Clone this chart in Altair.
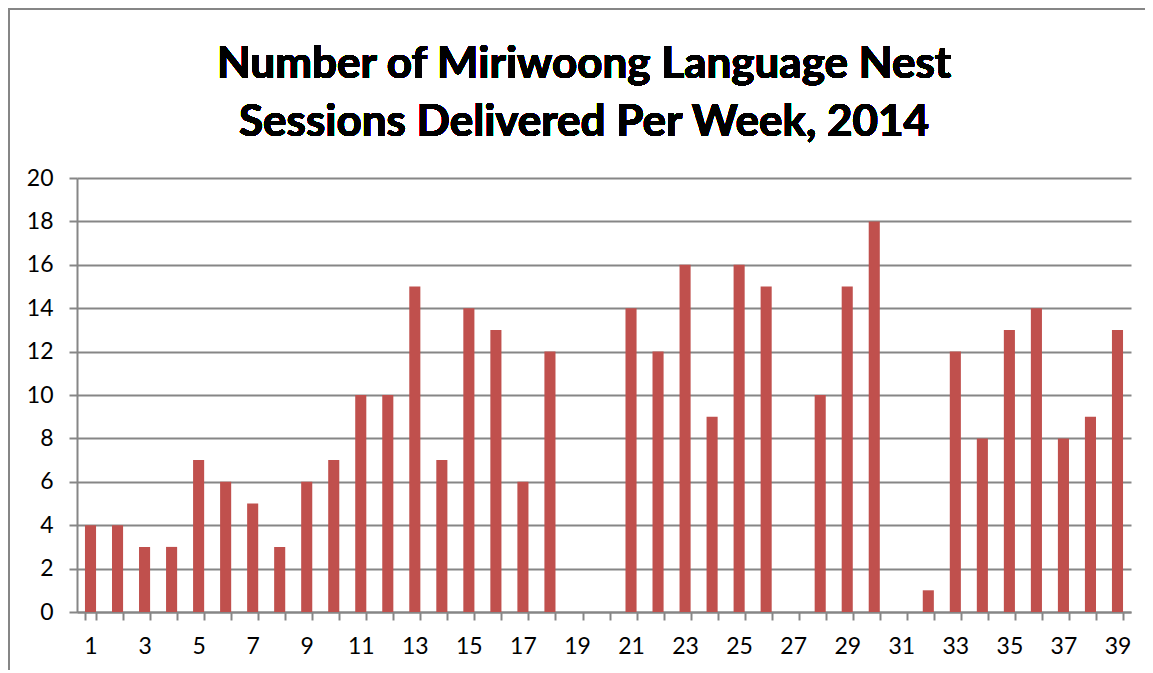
import altair as alt
import pandas as pd

weeks = list(range(1, 40))
sessions = [4, 4, 3, 3, 7, 6, 5, 3, 6, 7, 10, 10, 15, 7, 14, 13, 6, 12, 0, 0,
            14, 12, 16, 9, 16, 15, 0, 10, 15, 18, 0, 1, 12, 8, 13, 14, 8, 9, 13]
y_ticks = list(range(0, 21, 2))
title_lines = ["Number of Miriwoong Language Nest", "Sessions Delivered Per Week, 2014"]

df = pd.DataFrame({"week": weeks, "sessions": sessions})

FONT = "Lato"
GRAY = "#868686"
W, H = 1054, 434
PL, PT = 69, 170

bars = alt.Chart(df).mark_bar(color="#C0504D").encode(
    x=alt.X("week:O",
            scale=alt.Scale(paddingInner=0.59, paddingOuter=0.295),
            axis=alt.Axis(title=None, labelAngle=0, tickBand="extent",
                          labelExpr="datum.value % 2 == 1 ? datum.label : ''",
                          labelFont=FONT, labelFontSize=23, labelColor="#000000",
                          labelPadding=15, tickSize=8, tickColor=GRAY, tickWidth=2,
                          domainColor=GRAY, domainWidth=2, grid=False)),
    y=alt.Y("sessions:Q",
            scale=alt.Scale(domain=[0, 20], nice=False),
            axis=alt.Axis(title=None, values=y_ticks, labelFont=FONT, labelFontSize=23,
                          labelColor="#000000", labelPadding=16, tickSize=8,
                          tickColor=GRAY, tickWidth=2, domainColor=GRAY, domainWidth=2,
                          gridColor=GRAY, gridWidth=2, grid=True)),
)

title = alt.Chart(df).mark_text(
    font=FONT, fontSize=44, fontWeight="bold", color="#000000",
    align="center", baseline="alphabetic", lineHeight=58
).encode(
    text=alt.value(title_lines),
    x=alt.value(W / 2 - 20), y=alt.value(-100),
)

border_top = alt.Chart(df).mark_rule(color=GRAY, strokeWidth=2).encode(
    x=alt.value(-PL), x2=alt.value(W + 20), y=alt.value(-PT + 1)
)
border_left = alt.Chart(df).mark_rule(color=GRAY, strokeWidth=2).encode(
    x=alt.value(-PL + 1), y=alt.value(-PT), y2=alt.value(H + 70)
)

chart = alt.layer(bars, title, border_top, border_left).properties(
    width=W, height=H,
    autosize=alt.AutoSizeParams(type="none"),
    padding={"left": PL, "top": PT, "right": 14, "bottom": 58},
).configure_view(stroke=None)

chart.save("out.html", embed_options={"renderer": "svg", "actions": False})
